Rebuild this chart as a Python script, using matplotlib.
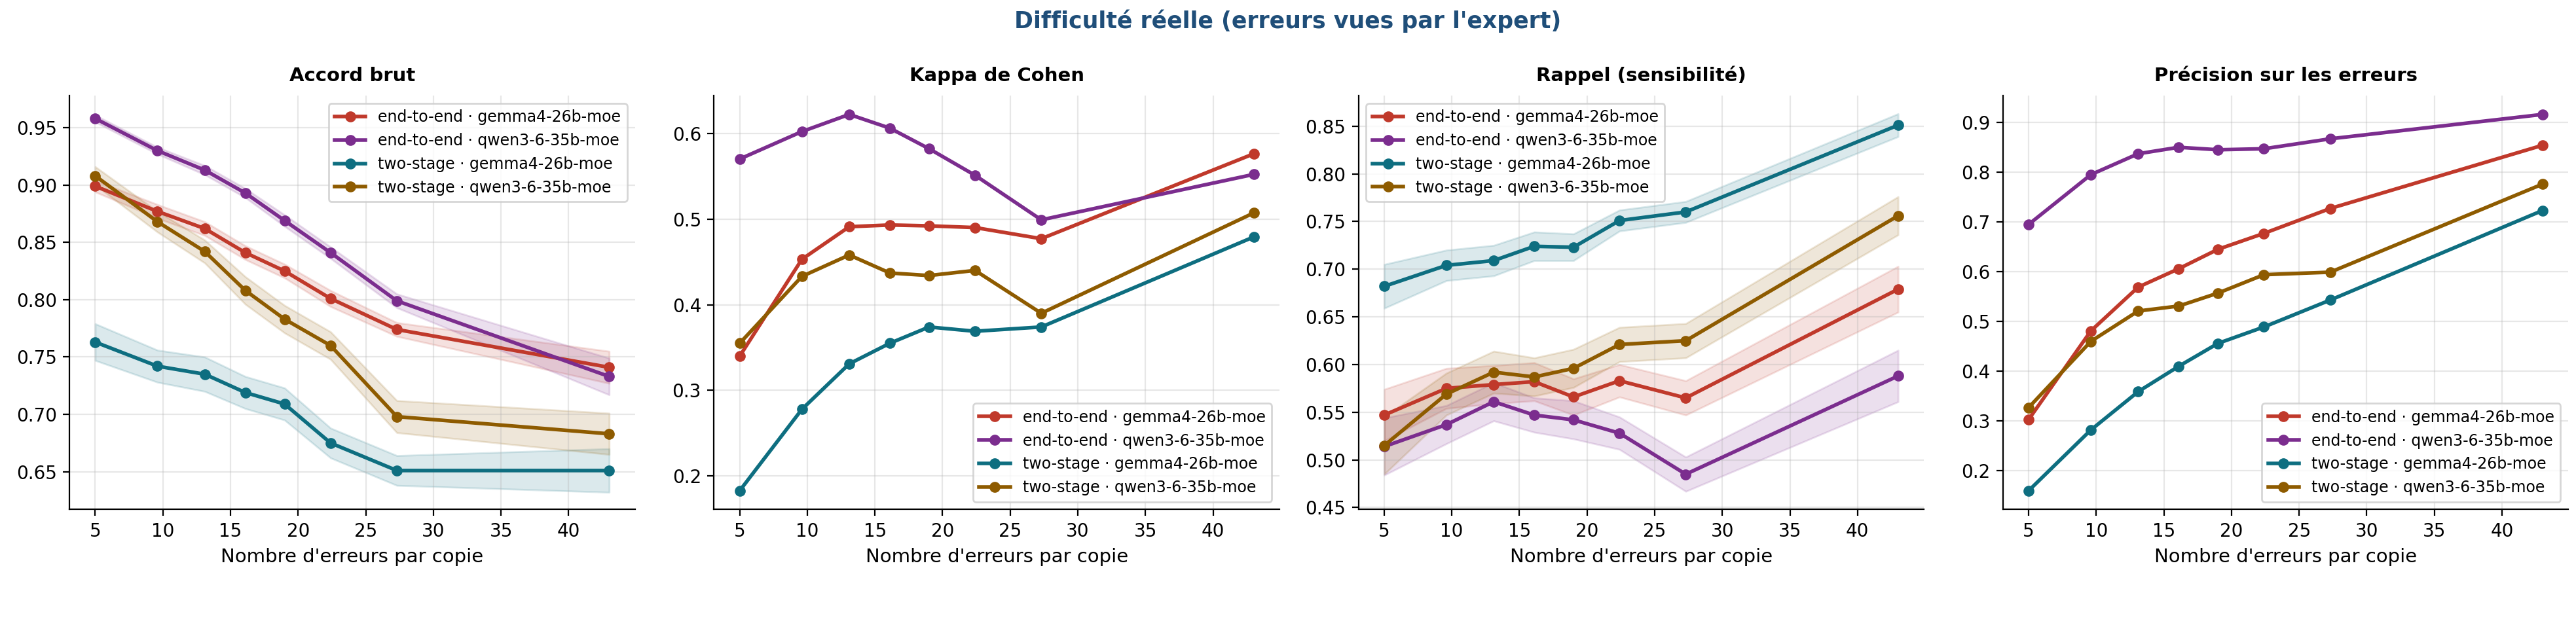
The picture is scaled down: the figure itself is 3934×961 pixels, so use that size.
import numpy as np
import matplotlib
matplotlib.use('Agg')
import matplotlib.pyplot as plt

x = [5, 9.6, 13.1, 16.1, 19.0, 22.4, 27.3, 43.0]
labels = ['end-to-end · gemma4-26b-moe', 'end-to-end · qwen3-6-35b-moe',
          'two-stage · gemma4-26b-moe', 'two-stage · qwen3-6-35b-moe']
colors = ['#c0392b', '#7b2d8e', '#0e6e80', '#8e5b00']

# Accord brut
acc = [[.899, .877, .862, .841, .825, .801, .774, .741],
       [.958, .930, .913, .893, .869, .841, .799, .733],
       [.763, .742, .735, .719, .709, .675, .651, .651],
       [.908, .868, .842, .808, .783, .760, .698, .683]]
acc_err = [[.005, .006, .006, .006, .006, .007, .006, .014],
           [.003, .003, .004, .004, .005, .005, .006, .016],
           [.016, .014, .015, .014, .014, .013, .013, .019],
           [.008, .009, .010, .012, .012, .012, .014, .018]]
# Kappa
kap = [[.340, .453, .491, .493, .492, .490, .477, .576],
       [.570, .602, .622, .606, .582, .551, .499, .552],
       [.183, .278, .331, .355, .374, .369, .374, .479],
       [.355, .433, .458, .437, .434, .440, .390, .507]]
# Rappel
rec = [[.547, .575, .579, .582, .566, .583, .565, .679],
       [.514, .537, .561, .547, .542, .528, .485, .588],
       [.682, .704, .709, .724, .723, .751, .760, .851],
       [.515, .569, .592, .587, .596, .621, .625, .756]]
rec_err = [[.027, .021, .020, .020, .019, .017, .018, .024],
           [.030, .020, .020, .018, .020, .017, .018, .027],
           [.023, .016, .016, .015, .014, .011, .011, .012],
           [.030, .022, .022, .020, .020, .018, .018, .020]]
# Précision
prec = [[.303, .481, .569, .606, .645, .677, .727, .854],
        [.695, .795, .837, .850, .845, .847, .867, .916],
        [.160, .282, .359, .410, .456, .489, .543, .723],
        [.327, .460, .521, .531, .557, .594, .599, .776]]

panels = [('Accord brut', acc, acc_err, 'upper right'),
          ('Kappa de Cohen', kap, None, 'lower right'),
          ('Rappel (sensibilité)', rec, rec_err, 'upper left'),
          ('Précision sur les erreurs', prec, None, 'lower right')]

fig, axes = plt.subplots(1, 4, figsize=(19.67, 4.805), dpi=200)
for ax, (title, vals, errs, loc) in zip(axes, panels):
    for i in range(4):
        y = np.array(vals[i])
        ax.plot(x, y, marker='o', markersize=5, lw=2, color=colors[i], label=labels[i])
        if errs is not None:
            e = np.array(errs[i])
            ax.fill_between(x, y - e, y + e, color=colors[i], alpha=0.15)
    ax.set_title(title, fontsize=10.5, fontweight='bold', pad=8)
    ax.set_xlabel("Nombre d'erreurs par copie", fontsize=10.5)
    ax.set_xticks([5, 10, 15, 20, 25, 30, 35, 40])
    ax.tick_params(labelsize=10)
    ax.grid(True, alpha=0.3)
    ax.spines['top'].set_visible(False)
    ax.spines['right'].set_visible(False)
    ax.legend(loc=loc, fontsize=8.5)

axes[0].set_ylim(0.617, 0.978)
axes[2].set_ylim(0.448, 0.882)

fig.suptitle("Difficulté réelle (erreurs vues par l'expert)", fontsize=12.5,
             fontweight='bold', color='#1f4e79', y=0.985)
fig.subplots_adjust(left=0.027, right=0.997, top=0.848, bottom=0.19, wspace=0.14)
fig.savefig('out.png', dpi=200)
